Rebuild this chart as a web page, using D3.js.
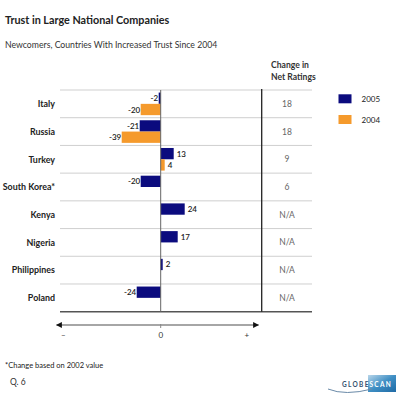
<!DOCTYPE html>
<html>
<head>
<meta charset="utf-8">
<script src="https://cdn.jsdelivr.net/npm/d3@7"></script>
<style>
  body { margin: 0; background: #fff; }
  text { font-family: Lato, "Noto Sans", sans-serif; }
</style>
</head>
<body>
<div id="chart"></div>
<script>
// Data
const countries = ["Italy", "Russia", "Turkey", "South Korea*", "Kenya", "Nigeria", "Philippines", "Poland"];
const values2005 = [-2, -21, 13, -20, 24, 17, 2, -24];
const values2004 = [-20, -39, 4, null, null, null, null, null];
const netChange = ["18", "18", "9", "6", "N/A", "N/A", "N/A", "N/A"];
const seriesNames = ["2005", "2004"];
const axisLabels = ["\u2013", "0", "+"];

const width = 399, height = 400;
const navy = "#0b0b7e", orange = "#f59a2c";
const colours = [navy, orange];

const svg = d3.select("#chart").append("svg")
    .attr("width", width)
    .attr("height", height);

// Scales
const xScale = d3.scaleLinear().domain([-100, 100]).range([60.7, 260.7]);
const yScale = d3.scaleBand().domain(countries).range([90, 311.7]);
const barH = 11.3;

// Titles
svg.append("text").attr("x", 5).attr("y", 24)
    .style("font-size", "10.8px").style("font-weight", "700").attr("fill", "#222")
    .text("Trust in Large National Companies");
svg.append("text").attr("x", 5).attr("y", 47.5)
    .style("font-size", "8.7px").attr("fill", "#333")
    .text("Newcomers, Countries With Increased Trust Since 2004");

// Column header
svg.append("text").attr("x", 271).attr("y", 68)
    .style("font-size", "8.6px").style("font-weight", "700").attr("fill", "#333")
    .text("Change in");
svg.append("text").attr("x", 271).attr("y", 80)
    .style("font-size", "8.6px").style("font-weight", "700").attr("fill", "#333")
    .text("Net Ratings");

// Horizontal gridlines
svg.selectAll(".grid")
    .data(countries)
    .enter()
    .append("line")
    .attr("class", "grid")
    .attr("x1", 60).attr("x2", 312)
    .attr("y1", d => yScale(d)).attr("y2", d => yScale(d))
    .attr("stroke", "#cfcfcf").attr("stroke-width", 1);

// Bottom rule
svg.append("line")
    .attr("x1", 60).attr("x2", 312)
    .attr("y1", yScale.range()[1]).attr("y2", yScale.range()[1])
    .attr("stroke", "#555").attr("stroke-width", 1.5);

// Column divider
svg.append("line")
    .attr("x1", 261.7).attr("x2", 261.7)
    .attr("y1", 89).attr("y2", yScale.range()[1])
    .attr("stroke", "#222").attr("stroke-width", 1.3);

// Country labels
svg.selectAll(".cat")
    .data(countries)
    .enter()
    .append("text")
    .attr("class", "cat")
    .attr("x", 55)
    .attr("y", d => yScale(d) + yScale.bandwidth() / 2 + 3.3)
    .attr("text-anchor", "end")
    .style("font-size", "8.9px").style("font-weight", "700").attr("fill", "#222")
    .text(d => d);

// Bars
const bars = [];
countries.forEach((c, i) => {
    [values2005[i], values2004[i]].forEach((v, s) => {
        if (v !== null) bars.push({ country: c, value: v, s: s });
    });
});

const barY = d => yScale(d.country) + yScale.bandwidth() / 2 - barH + d.s * barH;

svg.selectAll(".bar")
    .data(bars)
    .enter()
    .append("rect")
    .attr("class", "bar")
    .attr("x", d => Math.min(xScale(0), xScale(d.value)))
    .attr("y", barY)
    .attr("width", d => Math.abs(xScale(d.value) - xScale(0)))
    .attr("height", barH)
    .attr("fill", d => colours[d.s]);

// Zero line
svg.append("line")
    .attr("x1", xScale(0)).attr("x2", xScale(0))
    .attr("y1", 90).attr("y2", yScale.range()[1])
    .attr("stroke", "#666").attr("stroke-width", 1);

// Value labels
svg.selectAll(".val")
    .data(bars)
    .enter()
    .append("text")
    .attr("class", "val")
    .attr("x", d => d.value < 0 ? xScale(d.value) - 0.5 : xScale(d.value) + 3)
    .attr("y", d => barY(d) + barH / 2 + 3)
    .attr("text-anchor", d => d.value < 0 ? "end" : "start")
    .style("font-size", "8px").style("font-weight", "600").attr("fill", "#222")
    .text(d => d.value);

// Change column values
svg.selectAll(".chg")
    .data(netChange)
    .enter()
    .append("text")
    .attr("class", "chg")
    .attr("x", 287)
    .attr("y", (d, i) => yScale(countries[i]) + yScale.bandwidth() / 2 + 3)
    .attr("text-anchor", "middle")
    .style("font-size", "8.5px").attr("fill", "#666")
    .text(d => d);

// Legend
const legend = svg.selectAll(".legend")
    .data(seriesNames)
    .enter()
    .append("g")
    .attr("class", "legend")
    .attr("transform", (d, i) => `translate(338.5, ${94.3 + i * 20.7})`);
legend.append("rect").attr("width", 13).attr("height", 9).attr("fill", (d, i) => colours[i]);
legend.append("text").attr("x", 23).attr("y", 7.5)
    .style("font-size", "8px").attr("fill", "#222")
    .text(d => d);

// Arrow axis
const defs = svg.append("defs");
defs.append("marker")
    .attr("id", "arrow")
    .attr("viewBox", "0 0 10 10")
    .attr("refX", 9).attr("refY", 5)
    .attr("markerWidth", 6).attr("markerHeight", 6)
    .attr("markerUnits", "userSpaceOnUse")
    .attr("orient", "auto-start-reverse")
    .append("path").attr("d", "M0,0 L10,5 L0,10 Z").attr("fill", "#111");

svg.append("line")
    .attr("x1", 56.5).attr("x2", 258.5)
    .attr("y1", 325).attr("y2", 325)
    .attr("stroke", "#888").attr("stroke-width", 1.3)
    .attr("marker-start", "url(#arrow)")
    .attr("marker-end", "url(#arrow)");
svg.append("line")
    .attr("x1", xScale(0)).attr("x2", xScale(0))
    .attr("y1", 324).attr("y2", 328)
    .attr("stroke", "#888").attr("stroke-width", 1);

svg.selectAll(".axlab")
    .data(axisLabels)
    .enter()
    .append("text")
    .attr("class", "axlab")
    .attr("x", (d, i) => [63.3, xScale(0), 246.7][i])
    .attr("y", 338)
    .attr("text-anchor", "middle")
    .style("font-size", "8px").attr("fill", "#333")
    .text(d => d);

// Footnotes
svg.append("text").attr("x", 5).attr("y", 368)
    .style("font-size", "7.5px").attr("fill", "#222")
    .text("*Change based on 2002 value");
svg.append("text").attr("x", 10).attr("y", 385)
    .style("font-size", "8.5px").attr("fill", "#333")
    .text("Q. 6");

// Logo
const grad = defs.append("linearGradient").attr("id", "logoGrad")
    .attr("x1", 0).attr("x2", 1).attr("y1", 0).attr("y2", 1);
grad.append("stop").attr("offset", 0).attr("stop-color", "#b9d6ea");
grad.append("stop").attr("offset", 0.5).attr("stop-color", "#3f8fc4");
grad.append("stop").attr("offset", 1).attr("stop-color", "#1f6aa5");
svg.append("rect").attr("x", 368).attr("y", 375).attr("width", 28).attr("height", 17)
    .attr("fill", "url(#logoGrad)");
svg.append("text").attr("x", 342).attr("y", 387)
    .style("font-size", "6.5px").style("font-weight", "700").style("letter-spacing", "1.3px")
    .attr("fill", "#34506e").text("GLOBE");
svg.append("text").attr("x", 369.5).attr("y", 387)
    .style("font-size", "6.5px").style("font-weight", "700").style("letter-spacing", "1.3px")
    .attr("fill", "#fff").text("SCAN");
svg.append("path")
    .attr("d", "M328,389 Q345,396 372,389")
    .attr("fill", "none").attr("stroke", "#6a8aa8").attr("stroke-width", 1);
</script>
</body>
</html>
